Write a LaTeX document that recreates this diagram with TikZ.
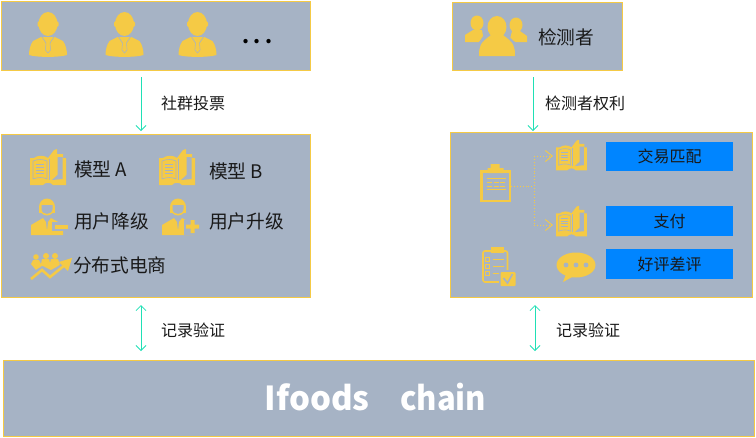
\documentclass[tikz,border=0pt]{standalone}
\usepackage{fontspec}
\setmainfont{Noto Sans CJK SC}
\usetikzlibrary{arrows.meta}
\definecolor{panelGray}{HTML}{A6B3C5}
\definecolor{iconGold}{HTML}{F5CA45}
\definecolor{flowTeal}{HTML}{1FE0B5}
\definecolor{tagBlue}{HTML}{0085FF}
\tikzset{
    panel/.style={draw=iconGold,fill=panelGray,line width=1pt,inner sep=0pt},
    tag/.style={fill=tagBlue,minimum width=127pt,minimum height=29.5pt,inner sep=0pt,font=\fontsize{16}{16}\selectfont,text=black!90},
    flow/.style={draw=flowTeal,line width=1pt,-{Straight Barb[length=5pt,width=10pt,line width=.8pt]}},
    flowboth/.style={draw=flowTeal,line width=1pt,{Straight Barb[length=5pt,width=10pt,line width=.8pt]}-{Straight Barb[length=5pt,width=10pt,line width=.8pt]}},
    branch/.style={draw=iconGold,line width=.9pt,dotted},
    branchtip/.style={branch,-{Straight Barb[length=7pt,width=11pt,line width=.9pt]}},
    flowlabel/.style={anchor=west,inner sep=0pt,font=\fontsize{16}{16}\selectfont,text=black!90},
    itemlabel/.style={anchor=west,inner sep=0pt,font=\fontsize{18.7}{18.7}\selectfont,text=black!90},
    cut/.style={draw=panelGray,line width=.8pt},
    userpic/.pic={
      \fill[iconGold] (0,0) ellipse [x radius=9.5,y radius=12];
      \fill[iconGold,rounded corners=1.5pt] (-10.5,-3) rectangle (10.5,3);
      \fill[iconGold] (-7,13) -- (-15,17) .. controls (-18,21) and (-19,27) .. (-19,31)
        .. controls (-12,33.5) and (12,33.5) .. (19,31) .. controls (19,27) and (18,21) .. (15,17) -- (7,13) -- cycle;
      \draw[cut,line width=.6pt] (-6,13) -- (-2,19) (6,13) -- (2,19);
      \draw[cut,line width=.5pt] (-2,19) -- (-2.6,26) -- (0,29) -- (2.6,26) -- (2,19);
    },
    bookpic/.pic={
      \fill[iconGold] (-18,-9) -- (-14,-9) .. controls (-10,-12) and (-4,-12) .. (0,-9) -- (6,-17)
        -- (9,-18) -- (9,-13) -- (15,-13) -- (15,-9) -- (18,-9) -- (18,18) -- (5,18)
        .. controls (3,15) and (-3,15) .. (-5,18) -- (-18,18) -- cycle;
      \draw[cut,line width=.6pt] (-15,-6) .. controls (-10,-8) and (-5,-8) .. (-1,-6) -- (-1,12) .. controls (-5,10) and (-10,10) .. (-15,12) -- cycle;
      \draw[cut,line width=.7pt] (-12,-3) -- (-4,-3) (-12,0) -- (-4,0) (-12,3) -- (-4,3) (-12,6) -- (-4,6);
      \fill[panelGray] (9.5,-10) -- (14.5,-10) -- (14.5,12) -- (4,13) -- (9.5,8) -- cycle;
      \draw[cut,line width=.6pt] (1,-8) -- (1,13);
    },
    personbase/.pic={
      \fill[iconGold] (0,0) ellipse [x radius=8,y radius=8.5];
      \fill[iconGold] (-8,0) rectangle (8,6);
      \fill[panelGray] (-5.5,-2) -- (5.5,-2) -- (5.5,2) .. controls (5,8.5) and (-5,8.5) .. (-5.5,2) -- cycle;
      \fill[iconGold] (-16,28) -- (-16,18) -- (-4,11) -- (-1,15) -- (0,24) -- (1,15) -- (4,11) -- (13,16) -- (16,18) -- (16,28) -- cycle;
    },
    trendpic/.pic={
      \fill[iconGold] (-15,-9) circle (2.8) (-5,-10) circle (3) (4,-10) circle (3);
      \fill[iconGold] (-20,-2) -- (-18,-6) -- (-12,-6) -- (-10,-2) -- (-9,-7) -- (-2,-7) -- (-1,-3) -- (0,-7) -- (7,-7) -- (9,-1) -- (0,4) -- (-8,0) -- (-15,4) -- cycle;
      \draw[panelGray,line width=1.6pt] (-22,10) -- (-9,1) -- (-1,8) -- (16,-6);
      \draw[iconGold,line width=2.6pt] (-20,13) -- (-9,4) -- (-1,11) -- (14,-1);
      \fill[iconGold] (21,-8) -- (8,-4) -- (17,5) -- cycle;
    },
    clipboardpic/.pic={
      \fill[iconGold] (-15.5,-16) rectangle (15.5,16);
      \fill[panelGray] (-13,-13) rectangle (13,13.5);
      \fill[iconGold] (-8,-18) -- (-5,-18) -- (-5,-22) -- (4,-22) -- (4,-18) -- (8,-18) -- (8,-13) -- (-8,-13) -- cycle;
      \draw[iconGold,line width=.9pt] (-8.5,-8) -- (10.5,-8) (-8.5,3) -- (10.5,3);
      \draw[iconGold,line width=.9pt,dash pattern=on 5pt off 1.5pt] (-8.5,-4) -- (10.5,-4) (-8.5,0) -- (10.5,0);
    },
    checklistpic/.pic={
      \draw[iconGold,line width=1.6pt,rounded corners=2pt] (-15.5,-15) rectangle (9,16);
      \fill[iconGold] (-8,-19) rectangle (5,-13);
      \draw[iconGold,line width=1pt] (-13,-9) rectangle (-9,-5) (-13,-2) rectangle (-9,2) (-13,5) rectangle (-9,9);
      \draw[iconGold,line width=1pt] (-6,-7) -- (5,-7) (-6,0) -- (5,0) (-6,7) -- (1,7);
      \fill[panelGray] (0,4) rectangle (17,21);
      \fill[iconGold,rounded corners=1pt] (2,6) rectangle (17,20);
      \draw[panelGray,line width=1.6pt] (5,12) -- (9,17) -- (14,8);
    },
    bubblepic/.pic={
      \fill[iconGold] (0,0) ellipse [x radius=19.5,y radius=12.5];
      \fill[iconGold] (-10,9) -- (-13,17) -- (-2,11) -- cycle;
      \fill[panelGray] (-10,0) circle (2.4) (0,0) circle (2.4) (10,0) circle (2.4);
    },
    grouppic/.pic={
      \fill[iconGold] (-20,-13) ellipse [x radius=6.5,y radius=7.5] (19,-11) ellipse [x radius=6.5,y radius=7.5];
      \fill[iconGold] (-32,6) -- (-32,-1) -- (-24,-6) -- (-15,-6) -- (-14,0) -- (-18,6) -- cycle;
      \fill[iconGold] (30,6) -- (30,0) -- (23,-5) -- (15,-5) -- (13,3) -- (18,6) -- cycle;
      \fill[panelGray] (0,-9) ellipse [x radius=11,y radius=12];
      \fill[panelGray] (-20,20) -- (-20,8) -- (-8,-3) -- (8,-3) -- (20,8) -- (20,20) -- cycle;
      \fill[iconGold] (0,-9) ellipse [x radius=9.5,y radius=11];
      \fill[iconGold] (-18,20) .. controls (-18,10) and (-17,7) .. (-6,-1) -- (6,-1) .. controls (17,7) and (18,10) .. (18,20) -- cycle;
    },
}

\begin{document}
\begin{tikzpicture}[x=1pt,y=-1pt]
  \useasboundingbox (0,0) rectangle (756,437);
  % panels
  \node[panel,minimum width=309pt,minimum height=69pt] (crowd) at (155.5,35.5) {};
  \node[panel,minimum width=309pt,minimum height=163pt] (models) at (155.5,215.5) {};
  \node[panel,minimum width=170pt,minimum height=68pt] (tester) at (537,36) {};
  \node[panel,minimum width=302pt,minimum height=165pt] (rights) at (601,214.5) {};
  \node[panel,minimum width=751pt,minimum height=75.5pt] (chain) at (379,398.25) {};
  \node[font=\fontsize{33}{33}\selectfont\bfseries,text=white,inner sep=0pt] (chainname) at (375.5,397) {Ifoods\hspace{.92em}{\addfontfeature{FakeStretch=.94}chain}};

  % crowd
  \pic at (48,24) {userpic};
  \pic at (124.5,24) {userpic};
  \pic at (197.5,24) {userpic};
  \node[font=\fontsize{20}{20}\selectfont\bfseries,inner sep=0pt,text=black] (more) at (257.5,42) {.\hspace{4pt}.\hspace{4pt}.};

  % tester
  \pic at (497,36) {grouppic};
  \node[itemlabel] (testername) at (538,37) {检测者};

  % models
  \pic at (48,167) {bookpic};
  \node[itemlabel] (modelA) at (74,169) {模型 A};
  \pic at (177,167) {bookpic};
  \node[itemlabel] (modelB) at (209,171) {模型 B};
  \pic at (47,207) {personbase};
  \fill[panelGray] (52,222) rectangle (69,231);
  \fill[iconGold] (55,224.5) rectangle (68,228.5);
  \node[itemlabel] (demote) at (74,221) {用户降级};
  \pic at (178,207) {personbase};
  \fill[panelGray] (184,220) rectangle (200,235);
  \fill[iconGold] (186,224.5) rectangle (199,228.5) (190.5,220) rectangle (194.5,233);
  \node[itemlabel] (promote) at (209,221) {用户升级};
  \pic at (51,266) {trendpic};
  \node[itemlabel] (shop) at (73,265) {分布式电商};

  % rights
  \pic at (495.5,186) {clipboardpic};
  \coordinate (boardout) at (511,186);
  \coordinate (forkup) at (534,156);
  \coordinate (forkdown) at (534,225);
  \coordinate (bookup) at (553,156);
  \coordinate (bookdown) at (553,225);
  \pic[scale=.85] at (571.5,155) {bookpic};
  \pic[scale=.85] at (571.5,221) {bookpic};
  \draw[branch] (boardout) -- (boardout -| forkup);
  \draw[branch] (forkup) -- (forkdown);
  \draw[branchtip] (forkup) -- (bookup);
  \draw[branchtip] (forkdown) -- (bookdown);
  \pic at (498.5,266) {checklistpic};
  \pic at (576,265) {bubblepic};
  \node[tag] (match) at (669.5,156.5) {交易匹配};
  \node[tag] (pay) at (669.5,221) {支付};
  \node[tag] (review) at (669.5,264) {好评差评};

  % links
  \coordinate (voteA) at (141,77);
  \coordinate (voteB) at (141,131);
  \coordinate (rightA) at (533,77);
  \coordinate (rightB) at (533,131);
  \coordinate (logA) at (141,305);
  \coordinate (logB) at (141,351);
  \coordinate (logC) at (535,305);
  \coordinate (logD) at (535,351);
  \draw[flow] (voteA) -- (voteB);
  \draw[flow] (rightA) -- (rightB);
  \draw[flowboth] (logA) -- (logB);
  \draw[flowboth] (logC) -- (logD);
  \node[flowlabel] (votetext) at (161,103) {社群投票};
  \node[flowlabel] (righttext) at (545,103) {检测者权利};
  \node[flowlabel] (logtext) at (161,330) {记录验证};
  \node[flowlabel] (logtextB) at (556,330) {记录验证};
\end{tikzpicture}
\end{document}
